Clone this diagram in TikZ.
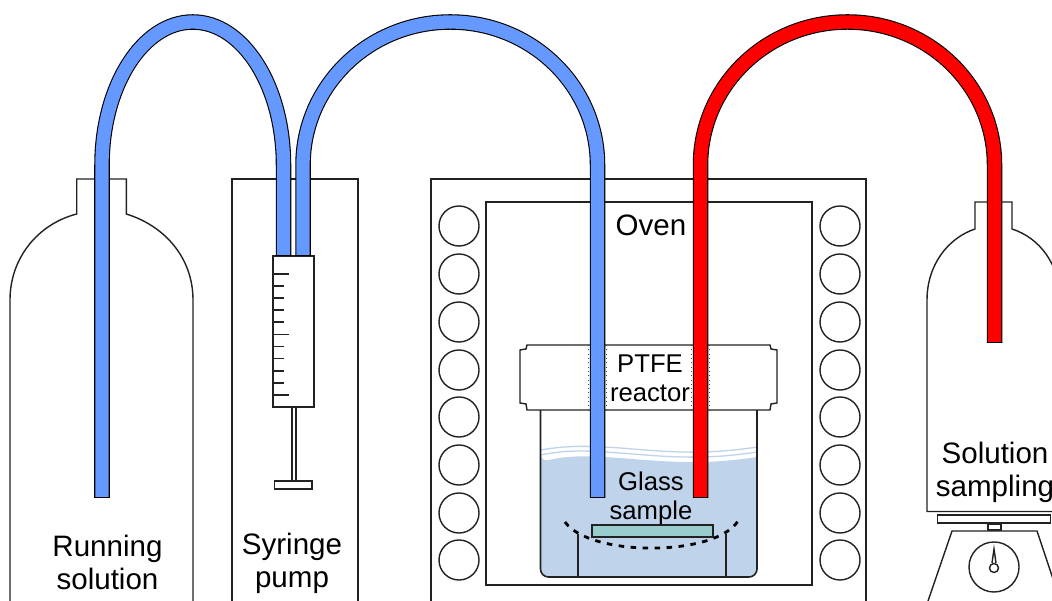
\documentclass[tikz,border=0pt]{standalone}
\usepackage{fontspec}
\setmainfont{Liberation Sans}
\usepackage{xcolor}
\definecolor{tubeblue}{HTML}{6699FF}
\definecolor{tubered}{HTML}{FF0000}
\definecolor{liquid}{HTML}{BFD3EA}
\definecolor{glass}{HTML}{99CCCC}
\definecolor{edge}{HTML}{222222}
\tikzset{
	part/.style={draw=edge,line width=0.014cm,fill=white},
	rim/.style={liquid,line width=0.013cm},
	biglabel/.style={inner sep=0,align=center,font=\fontsize{8.4}{9.4}\selectfont},
	smalllabel/.style={inner sep=0,align=center,font=\fontsize{7.3}{8.2}\selectfont},
}
% one tube: a dark stroke with a coloured one on top
\newcommand{\tubeline}[2]{%
	\draw[black,line width=0.155cm] #2;
	\draw[#1,line width=0.133cm,shorten >=0.012cm,shorten <=0.012cm] #2;
}
\begin{document}
\begin{tikzpicture}[x=0.01cm,y=-0.01cm]
\useasboundingbox (0,0) rectangle (1052,601);
\clip (0,0) rectangle (1052,601);
% bottles
\draw[part] (10,620) -- (10,300) .. controls (10,258) and (38,224) .. (76.7,214) -- (76.7,179) -- (126.3,179) -- (126.3,214) .. controls (165,226) and (193,258) .. (193,300) -- (193,620);
\draw[part] (1070,511.5) -- (927,511.5) -- (927,300) .. controls (927,265) and (948,238) .. (975,229) -- (975,202) -- (1012,202) -- (1012,229) .. controls (1040,238) and (1060,265) .. (1060,300) -- (1060,511.5);
% balance
\draw[part] (937.7,515) rectangle (1050.7,523);
\draw[part] (988,524) rectangle (1001,530);
\draw[part] (928,601) -- (952,531) -- (1037,531) -- (1065,615);
\node[part,circle,minimum size=0.5cm,inner sep=0] (dial) at (994,567) {};
\draw[part] (992,563) -- (994,549) -- (996,563);
\node[part,circle,minimum size=0.09cm,inner sep=0] (needle) at (994,568) {};
% pump
\draw[part] (232,620) -- (232,179) -- (358,179) -- (358,620);
\draw[part] (292,407) rectangle (296,481);
\draw[part] (274.5,481) rectangle (312,489);
\draw[part] (273,256) rectangle (314,407);
\foreach \y [count=\i] in {274,286,298,310,322,334.5,346.5,358.5,371,383,395}
{
	\ifnum\i=1 \draw[edge,line width=0.014cm] (273,\y) -- (289,\y);
	\else\ifnum\i=6 \draw[edge,line width=0.014cm] (273,\y) -- (289,\y);
	\else\ifnum\i=11 \draw[edge,line width=0.014cm] (273,\y) -- (289,\y);
	\else \draw[edge,line width=0.014cm] (273,\y) -- (284,\y);
	\fi\fi\fi
}
% oven
\draw[part] (431,620) -- (431,179) -- (866,179) -- (866,620);
\draw[part] (486,202) rectangle (812,585);
\foreach \y in {226,274,322,370,417,465,513,560}
{
	\node[part,circle,minimum size=0.4cm,inner sep=0] at (459,\y) {};
	\node[part,circle,minimum size=0.4cm,inner sep=0] at (840,\y) {};
}
% reactor
\fill[liquid] (540.5,462) .. controls (570,455) and (590,456) .. (620,458) .. controls (660,461) and (700,466) .. (757,457) [rounded corners=0.08cm] -- (757,577) -- (540.5,577) -- (540.5,462) -- cycle;
\draw[rim] (540.5,455) .. controls (570,449) and (590,451) .. (620,453) .. controls (660,456) and (700,461) .. (757,452);
\draw[rim] (540.5,450) .. controls (570,445) and (590,446) .. (620,448) .. controls (660,451) and (700,456) .. (757,447);
\draw[edge,line width=0.016cm,rounded corners=0.08cm] (540.5,410) -- (540.5,577) -- (757,577) -- (757,410);
\draw[part] (578,534) -- (578,577);
\draw[part] (726,534) -- (726,577);
\draw[edge,line width=0.014cm,fill=glass] (592,525) rectangle (713,537);
\draw[black,line width=0.028cm,dash pattern=on 0.055cm off 0.065cm] (565,522) .. controls (590,557) and (715,557) .. (738,521);
\draw[part] (527,345) -- (770,345) -- (771,349) -- (777,350) -- (777,403) -- (771,404) -- (770,410) -- (527,410) -- (526,404) -- (520,403) -- (520,350) -- (526,349) -- cycle;
\foreach \x in {588,606,691,709}
	\draw[black!70,line width=0.008cm,densely dotted] (\x,345) -- (\x,410);
% tubes
\tubeline{tubeblue}{(102,498) -- (102,165) arc[x radius=90.75,y radius=143,start angle=180,end angle=360] -- (283.5,256)}
\tubeline{tubeblue}{(303,256) -- (303,165) arc[x radius=147.25,y radius=143,start angle=180,end angle=360] -- (597.5,498)}
\tubeline{tubered}{(700.5,498) -- (700.5,165) arc[x radius=147,y radius=143,start angle=180,end angle=360] -- (994.5,343)}
% labels
\node[biglabel] (running) at (107.5,562) {Running\\solution};
\node[biglabel] (pump) at (292,563) {Syringe\\pump};
\node[biglabel] (oven) at (651,225) {Oven};
\node[smalllabel] (ptfe) at (650,378.5) {PTFE\\reactor};
\node[smalllabel] (sample) at (651,498) {Glass\\sample};
\node[biglabel] (sampling) at (995,472) {Solution\\sampling};
\end{tikzpicture}
\end{document}
